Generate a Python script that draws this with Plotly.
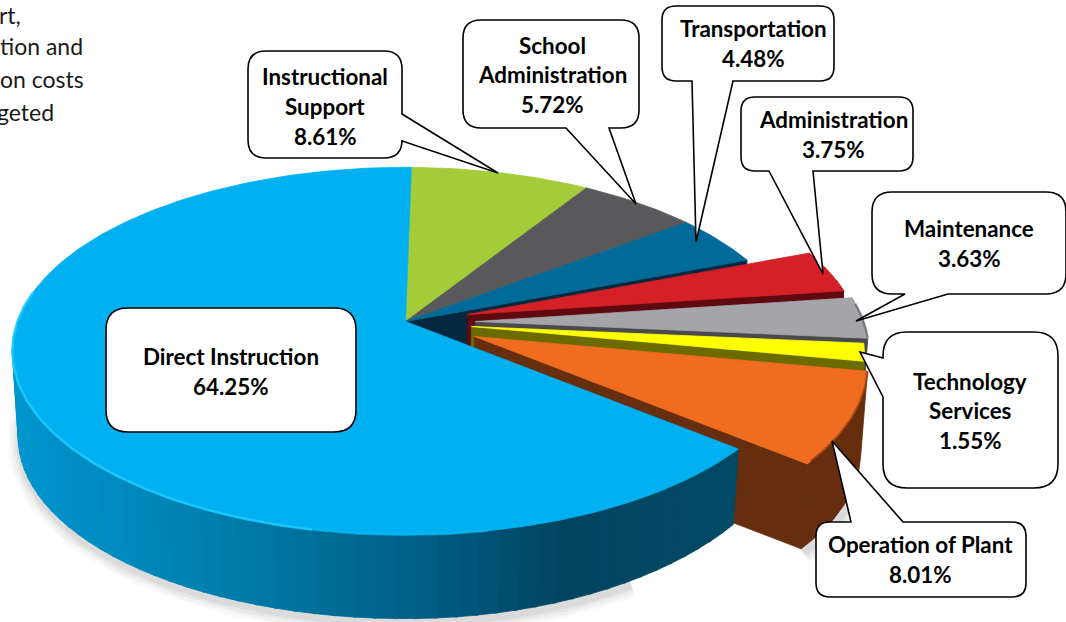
import math
import plotly.graph_objects as go

# ---------- data ----------
CATEGORIES = ["Instructional Support", "School Administration", "Transportation", "Administration",
              "Maintenance", "Technology Services", "Operation of Plant", "Direct Instruction"]
SHARES = [8.61, 5.72, 4.48, 3.75, 3.63, 1.55, 8.01, 64.25]
LABEL_LINES = [["Instructional", "Support"], ["School", "Administration"], ["Transportation"], ["Administration"],
               ["Maintenance"], ["Technology", "Services"], ["Operation of Plant"], ["Direct Instruction"]]
TOP_COLORS = ["#a4cc39", "#59595b", "#006a99", "#d62027", "#a5a5a9", "#ffff00", "#ef6c20", "#00b0f0"]
SIDE_COLORS = ["#6d8a25", "#3a3a3c", "#04293f", "#5e0a10", "#4a4a4e", "#6b6b00", "#662d0e", "#004a66"]
NOTE_LINES = ["rt,", "tion and", "on costs", "geted"]

# ---------- projection of the tilted disc ----------
CX, CY, A, B, K = 405.5, 321.5, 388.0, 179.0, 0.161
DEPTH, SHRINK = 87.0, 0.985
TAPER = 16.0
START_DEG = 1.0
OFFSETS = [(0, 0), (0, 0), (0, 0), (62, -7), (70, 0), (66, 5), (69, 15), (0, 0)]


def project(theta_deg, r=1.0, off=(0, 0), low=False, taper=0.0):
    t = math.radians(theta_deg)
    u, v = r * math.sin(t), -r * math.cos(t)
    d = 1 - K * v
    x, y = off[0] + A * u / d, off[1] + B * v / d
    if low:
        return CX + SHRINK * x, CY + DEPTH + SHRINK * y - taper * max(0.0, u) ** 2
    return CX + x, CY + y


def arc(a0, a1, off=(0, 0), low=False, n=None, taper=0.0):
    n = n or max(2, int(abs(a1 - a0) / 1.0) + 2)
    return [project(a0 + (a1 - a0) * i / (n - 1), 1.0, off, low, taper) for i in range(n)]


fig = go.Figure()


def poly(pts, color, line=None, width=0.8):
    fig.add_trace(go.Scatter(x=[p[0] for p in pts] + [pts[0][0]], y=[p[1] for p in pts] + [pts[0][1]],
                             mode="lines", fill="toself", fillcolor=color,
                             line=dict(color=line or color, width=width), hoverinfo="skip", showlegend=False))


def path(pts, color, width):
    fig.add_trace(go.Scatter(x=[p[0] for p in pts], y=[p[1] for p in pts], mode="lines",
                             line=dict(color=color, width=width), hoverinfo="skip", showlegend=False))


def lerp_hex(stops, x):
    if x <= stops[0][0]:
        return stops[0][1]
    for (x0, c0), (x1, c1) in zip(stops, stops[1:]):
        if x <= x1:
            f = (x - x0) / (x1 - x0)
            rgb = [round(int(c0[i:i + 2], 16) * (1 - f) + int(c1[i:i + 2], 16) * f) for i in (1, 3, 5)]
            return "#%02x%02x%02x" % tuple(rgb)
    return stops[-1][1]


# slice angles from the shares
spans = []
a = START_DEG
for s in SHARES:
    spans.append((a, a + s * 3.6))
    a += s * 3.6

BLUE = len(SHARES) - 1
ORANGE = BLUE - 1
b0, b1 = spans[BLUE]

# soft ground shadow under the lower rim
for w, alpha in [(26, 0.025), (20, 0.03), (14, 0.04), (8, 0.05)]:
    path(arc(b0 + 20, b1 + 2, (2, 4), True, taper=TAPER), f"rgba(0,0,0,{alpha})", w)
    path(arc(spans[ORANGE][0] + 8, spans[ORANGE][1], (OFFSETS[ORANGE][0] + 2, OFFSETS[ORANGE][1] + 4), True),
         f"rgba(0,0,0,{alpha})", w)

# flat back slices; the Transportation slice shows its cut face
t0, t1 = spans[2]
poly([project(t1, 0), project(t1), project(t1, 1, (0, 0), True), project(t1, 0, (0, 0), True)], SIDE_COLORS[2])
for i in range(3):
    a0, a1 = spans[i]
    poly([project(a0, 0)] + arc(a0, a1) + [project(a0, 0)], TOP_COLORS[i])

# exploded slices, back to front
for i in range(3, 7):
    a0, a1 = spans[i]
    off = OFFSETS[i]
    poly(arc(a0, a1, off) + arc(a1, a0, off, True), SIDE_COLORS[i])
    poly([project(a1, 0, off), project(a1, 1, off), project(a1, 1, off, True), project(a1, 0, off, True)],
         SIDE_COLORS[i])
    poly([project(a0, 0, off)] + arc(a0, a1, off), TOP_COLORS[i])

# bevels on the rims of the exploded slices
path(arc(spans[4][0] + 2, spans[4][1], OFFSETS[4]), "rgba(90,90,95,0.55)", 2.5)
path(arc(spans[6][0], spans[6][1] - 1, OFFSETS[6]), "rgba(120,50,10,0.55)", 2.5)

# the large slice: side as narrow strips with a left-to-right shading
STOPS = [(10, "#0096cf"), (200, "#0080b0"), (330, "#006c97"), (470, "#00567a"), (560, "#00445f"), (740, "#004a66")]
n_strips = 90
step = (b1 - b0) / n_strips
for j in range(n_strips):
    s0 = b0 + j * step
    s1 = min(s0 + step * 1.15, b1)
    upper = arc(s0, s1, n=3)
    lower = arc(s1, s0, low=True, n=3, taper=TAPER)
    if upper[1][1] < CY + 10:   # rim faces away from the viewer
        continue
    poly(upper + lower, lerp_hex(STOPS, upper[1][0]))
poly([project(b0, 0)] + arc(b0, b1), TOP_COLORS[BLUE])

# bright rim on the large slice
path(arc(b0 + 40, b0 + 62), "rgba(20,190,245,0.45)", 2.5)
path(arc(b0 + 62, b0 + 150), "rgba(30,205,255,0.85)", 2.5)

# ---------- call-outs ----------
BOXES = [
    (248, 51, 402, 158, 18), (463, 20, 639, 128, 18), (662, 6, 834, 81, 14), (741, 97, 913, 171, 14),
    (872, 192, 1066, 294, 20), (883, 332, 1058, 488, 24), (816, 522, 1026, 597, 14), (106, 308, 356, 432, 22),
]
WEDGES = [
    ("r", (114, 141), (498, 173)), ("b", (566, 609), (636, 204)), ("b", (692, 733), (696, 242)),
    ("b", (769, 813), (823, 274)), ("b", (905, 948), (856, 321)), ("l", (358, 397), (860, 352)),
    ("t", (851, 903), (832, 441)), (None, None, None),
]
TEXT_Y = [(76, 30), (45, 29.5), (28, 30), (119, 30), (228, 30), (381, 29.5), (544, 30), (356, 30)]
TEXT_X = [325, 552, 753, 833, 969, 970, 920, 231]


def callout(box, wedge):
    x0, y0, x1, y1, r = box
    side, base, tip = wedge
    p = [f"M{x0 + r},{y0}"]
    if side == "t":
        p += [f"L{base[0]},{y0}", f"L{tip[0]},{tip[1]}", f"L{base[1]},{y0}"]
    p += [f"L{x1 - r},{y0}", f"Q{x1},{y0} {x1},{y0 + r}"]
    if side == "r":
        p += [f"L{x1},{base[0]}", f"L{tip[0]},{tip[1]}", f"L{x1},{base[1]}"]
    p += [f"L{x1},{y1 - r}", f"Q{x1},{y1} {x1 - r},{y1}"]
    if side == "b":
        p += [f"L{base[1]},{y1}", f"L{tip[0]},{tip[1]}", f"L{base[0]},{y1}"]
    p += [f"L{x0 + r},{y1}", f"Q{x0},{y1} {x0},{y1 - r}"]
    if side == "l":
        p += [f"L{x0},{base[1]}", f"L{tip[0]},{tip[1]}", f"L{x0},{base[0]}"]
    p += [f"L{x0},{y0 + r}", f"Q{x0},{y0} {x0 + r},{y0}", "Z"]
    return " ".join(p)


FONT = "Lato"
FS = 22.4
shapes, annotations = [], []
for i, cat in enumerate(CATEGORIES):
    shapes.append(dict(type="path", path=callout(BOXES[i], WEDGES[i]), xref="x", yref="y", layer="above",
                       fillcolor="white", line=dict(color="black", width=1.6)))
    lines = LABEL_LINES[i] + [f"{SHARES[i]:.2f}%"]
    y, dy = TEXT_Y[i]
    for k, t in enumerate(lines):
        annotations.append(dict(x=TEXT_X[i], y=y + k * dy, text=f"<b>{t}</b>", showarrow=False, xref="x", yref="y",
                                xanchor="center", yanchor="middle",
                                font=dict(family=FONT, size=FS, color="black")))

NOTE_X = [23, 85, 86, 56]
NOTE_Y = [15, 46, 79, 112]
for t, x, y in zip(NOTE_LINES, NOTE_X, NOTE_Y):
    annotations.append(dict(x=x, y=y, text=t, showarrow=False, xref="x", yref="y", xanchor="right", yanchor="middle",
                            font=dict(family=FONT, size=23, color="#1a1a1a")))

fig.update_layout(
    width=1066, height=622, margin=dict(l=0, r=0, t=0, b=0), paper_bgcolor="white", plot_bgcolor="white",
    showlegend=False, shapes=shapes, annotations=annotations,
    xaxis=dict(range=[0, 1066], visible=False, fixedrange=True),
    yaxis=dict(range=[622, 0], visible=False, fixedrange=True),
)
fig.write_html("out.html", config={"displayModeBar": False},
               post_script="document.body.style.margin='0';document.body.style.overflow='hidden';")
